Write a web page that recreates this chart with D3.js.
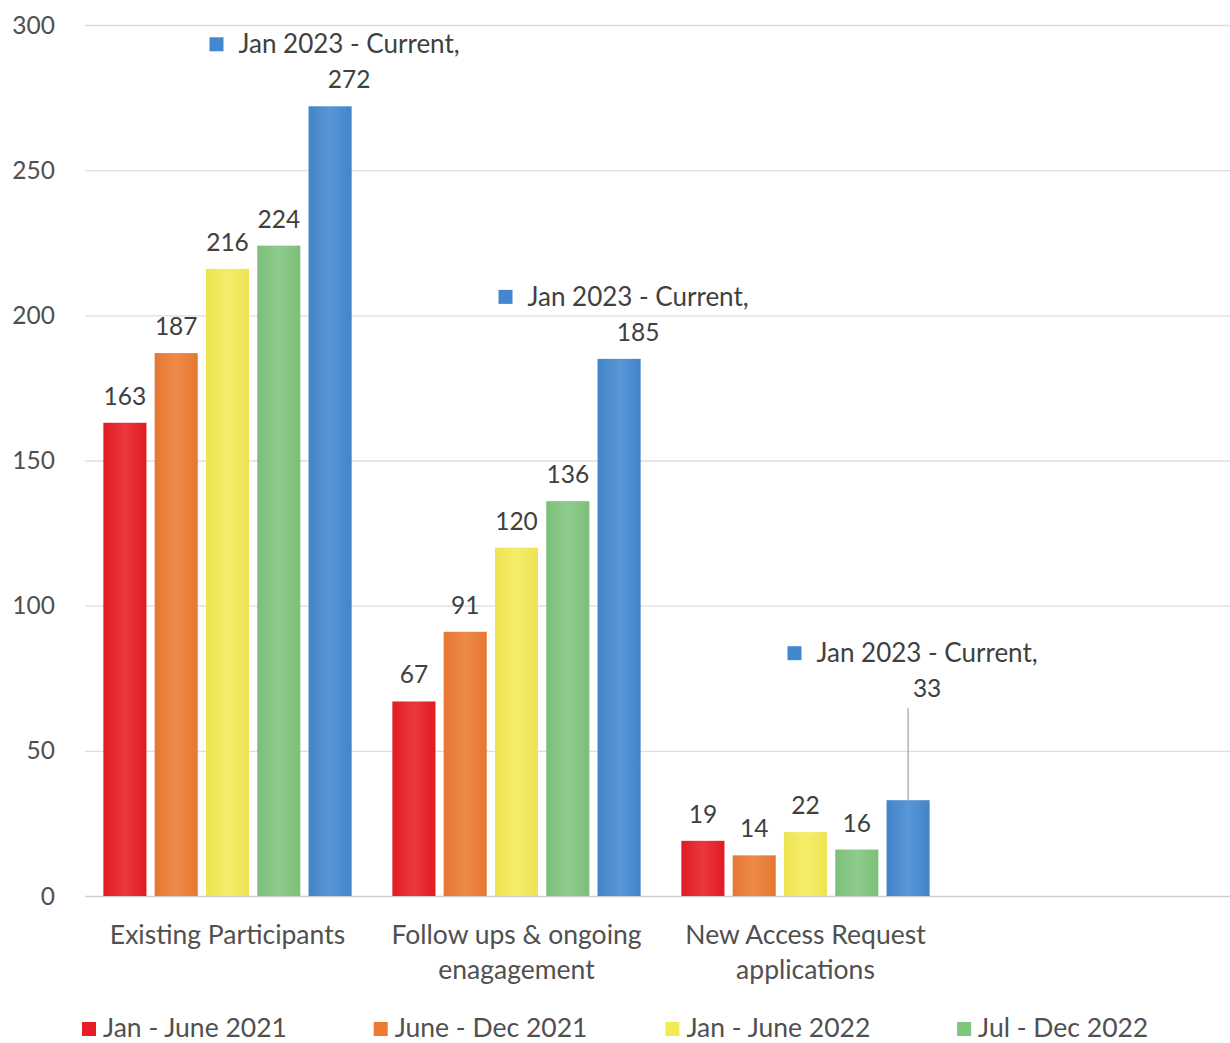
<!DOCTYPE html>
<html>
<head>
<meta charset="utf-8">
<script src="https://cdn.jsdelivr.net/npm/d3@7"></script>
<style>
    body { margin: 0; background: #fff; }
    svg { display: block; }
    text { font-family: Lato, "Open Sans", sans-serif; fill: #404040; }
</style>
</head>
<body>
<div id="chart"></div>
<script>
// Chart data
const categories = ['Existing Participants', 'Follow ups & ongoing enagagement', 'New Access Request applications'];
const categoryLines = [['Existing Participants'], ['Follow ups & ongoing', 'enagagement'], ['New Access Request', 'applications']];
const seriesNames = ['Jan - June 2021', 'June - Dec 2021', 'Jan - June 2022', 'Jul - Dec 2022', 'Jan 2023 - Current'];
const seriesColors = ['#e81c24', '#ec7a31', '#f4ea55', '#7fc57c', '#4388cf'];
const values = [
    [163, 67, 19],
    [187, 91, 14],
    [216, 120, 22],
    [224, 136, 16],
    [272, 185, 33]
];
const yTicks = [0, 50, 100, 150, 200, 250, 300];

// Layout
const width = 1230;
const height = 1043;
const plot = { left: 85, right: 1230, top: 25, bottom: 896 };

const svg = d3.select('#chart')
    .append('svg')
    .attr('width', width)
    .attr('height', height);

const y = d3.scaleLinear().domain([0, 300]).range([plot.bottom, plot.top]);
const x0 = d3.scaleBand().domain(categories).range([83, 950]);
const x1 = d3.scaleBand().domain(seriesNames).range([0, x0.bandwidth()])
    .paddingInner(0.16).paddingOuter(0.397);

// Gradients for the bars (slightly lighter in the middle)
const defs = svg.append('defs');
seriesColors.forEach((c, i) => {
    const g = defs.append('linearGradient').attr('id', 'grad' + i)
        .attr('x1', '0%').attr('x2', '100%').attr('y1', '0%').attr('y2', '0%');
    const light = d3.interpolateRgb(c, '#ffffff')(0.12);
    g.append('stop').attr('offset', '0%').attr('stop-color', d3.color(c).darker(0.08));
    g.append('stop').attr('offset', '50%').attr('stop-color', light);
    g.append('stop').attr('offset', '100%').attr('stop-color', d3.color(c).darker(0.08));
});

// Gridlines and y tick labels
svg.append('g')
    .selectAll('line')
    .data(yTicks)
    .enter()
    .append('line')
    .attr('x1', plot.left)
    .attr('x2', plot.right)
    .attr('y1', d => y(d) + 0.5)
    .attr('y2', d => y(d) + 0.5)
    .attr('stroke', d => d === 0 ? '#d0d0d0' : '#dedede')
    .attr('stroke-width', 1.3);

svg.append('g')
    .selectAll('text')
    .data(yTicks)
    .enter()
    .append('text')
    .attr('x', 55)
    .attr('y', d => y(d) + 8.5)
    .attr('text-anchor', 'end')
    .style('font-size', '24.5px')
    .style('fill', '#505050')
    .text(d => d);

// Bars
const groups = svg.append('g')
    .selectAll('g')
    .data(seriesNames)
    .enter()
    .append('g');

groups.selectAll('rect')
    .data((s, si) => categories.map((c, ci) => ({ s, si, c, ci, v: values[si][ci] })))
    .enter()
    .append('rect')
    .attr('x', d => x0(d.c) + x1(d.s))
    .attr('y', d => y(d.v))
    .attr('width', x1.bandwidth())
    .attr('height', d => y(0) - y(d.v))
    .attr('fill', d => `url(#grad${d.si})`);

// Data labels
const lastSeries = seriesNames.length - 1;
const raisedLabel = 85; // the last category's blue label was dragged up with a leader line

seriesNames.forEach((s, si) => {
    categories.forEach((c, ci) => {
        const v = values[si][ci];
        const cx = x0(c) + x1(s) + x1.bandwidth() / 2;
        let base = y(v) - 18;

        if (si !== lastSeries) {
            svg.append('text')
                .attr('x', cx)
                .attr('y', base)
                .attr('text-anchor', 'middle')
                .style('font-size', '24.5px')
                .text(v);
            return;
        }

        if (ci === categories.length - 1) {
            base -= raisedLabel;
            svg.append('line')
                .attr('x1', cx).attr('x2', cx)
                .attr('y1', base + 11).attr('y2', y(v))
                .attr('stroke', '#8c8c8c')
                .attr('stroke-width', 1);
        }

        const tx = cx + 19;
        svg.append('text')
            .attr('x', tx)
            .attr('y', base)
            .attr('text-anchor', 'middle')
            .style('font-size', '24.5px')
            .text(v);

        const nameText = svg.append('text')
            .attr('x', tx)
            .attr('y', base - 35)
            .attr('text-anchor', 'middle')
            .style('font-size', '26px')
            .text(s + ',');

        const w = nameText.node().getComputedTextLength();
        svg.append('rect')
            .attr('x', tx - w / 2 - 29)
            .attr('y', base - 35 - 16)
            .attr('width', 14)
            .attr('height', 14)
            .attr('fill', seriesColors[si]);
    });
});

// Category labels
categories.forEach((c, ci) => {
    const t = svg.append('text')
        .attr('x', x0(c) + x0.bandwidth() / 2)
        .attr('y', 944)
        .attr('text-anchor', 'middle')
        .style('font-size', '26.5px')
        .style('fill', '#505050');
    categoryLines[ci].forEach((line, li) => {
        t.append('tspan')
            .attr('x', x0(c) + x0.bandwidth() / 2)
            .attr('dy', li === 0 ? 0 : 35)
            .text(line);
    });
});

// Legend (wraps; rows beyond the picture are skipped)
const legendStep = 291.7;
const perRow = 4;
const legendY = 1028;
const legendItems = seriesNames
    .map((s, i) => ({ s, i, row: Math.floor(i / perRow), col: i % perRow }))
    .filter(d => legendY + d.row * 40 < height);

const legend = svg.append('g')
    .selectAll('g')
    .data(legendItems)
    .enter()
    .append('g')
    .attr('transform', d => `translate(${82 + d.col * legendStep},${legendY + d.row * 40})`);

legend.append('rect')
    .attr('x', 0)
    .attr('y', -6)
    .attr('width', 14)
    .attr('height', 14)
    .attr('fill', d => seriesColors[d.i]);

legend.append('text')
    .attr('x', 21)
    .attr('y', 9)
    .style('font-size', '26.5px')
    .style('fill', '#505050')
    .text(d => d.s);
</script>
</body>
</html>
